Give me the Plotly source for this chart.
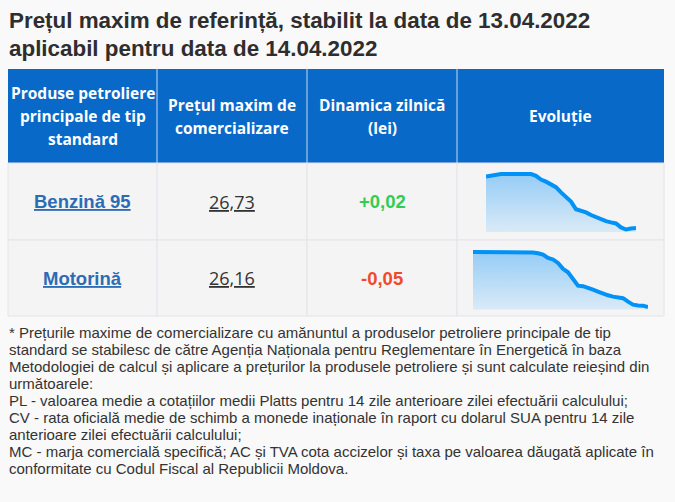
import plotly.graph_objects as go

W, H = 675, 502

title_lines = ["Prețul maxim de referință, stabilit la data de 13.04.2022",
               "aplicabil pentru data de 14.04.2022"]

headers = ["Produse petroliere<br>principale de tip<br>standard",
           "Prețul maxim de<br>comercializare",
           "Dinamica zilnică<br>(lei)",
           "Evoluție"]

products = ["Benzină 95", "Motorină"]
prices = [26.73, 26.16]
changes = [0.02, -0.05]

# daily max price over the last weeks
evol_benzina = [28.68, 28.72, 28.77, 28.78, 28.78, 28.78, 28.78, 28.78, 28.78, 28.78,
                28.71, 28.57, 28.49, 28.37, 28.28, 28.08, 27.88, 27.73, 27.44, 27.38,
                27.32, 27.22, 27.13, 27.04, 26.99, 26.94, 26.90, 26.75, 26.67, 26.71,
                26.73]
evol_motorina = [28.22, 28.22, 28.22, 28.22, 28.22, 28.22, 28.22, 28.22, 28.22, 28.22,
                 28.22, 28.22, 28.20, 28.17, 28.12, 28.00, 27.94, 27.81, 27.59, 27.46,
                 27.19, 26.96, 26.94, 26.89, 26.81, 26.74, 26.66, 26.60, 26.55, 26.52,
                 26.49, 26.36, 26.25, 26.22, 26.21, 26.16]

footnote = ["* Prețurile maxime de comercializare cu amănuntul a produselor petroliere principale de tip",
            "standard se stabilesc de către Agenția Naționala pentru Reglementare în Energetică în baza",
            "Metodologiei de calcul și aplicare a prețurilor la produsele petroliere și sunt calculate reieșind din",
            "următoarele:",
            "PL - valoarea medie a cotațiilor medii Platts pentru 14 zile anterioare zilei efectuării calculului;",
            "CV - rata oficială medie de schimb a monede inaționale în raport cu dolarul SUA pentru 14 zile",
            "anterioare zilei efectuării calculului;",
            "MC - marja comercială specifică; AC și TVA cota accizelor și taxa pe valoarea dăugată aplicate în",
            "conformitate cu Codul Fiscal al Republicii Moldova."]

# table geometry in pixels
col_x = [8, 157, 307, 457, 664]
row_y = [69, 163, 240, 316]
spark_box = [(486, 636, 171.5, 232), (473, 648, 249.5, 309.5)]

BLUE = '#0869c9'
CELL = '#f4f4f4'
BORDER = '#e4e4ea'
TEXT = '#333333'


def px(x):
    return x / W


def py(y):
    return 1 - y / H


def label(text, x, y, size, color, family='Liberation Sans', anchor='center'):
    return dict(text=text, x=px(x), y=py(y), xref='paper', yref='paper',
                showarrow=False, xanchor=anchor, yanchor='middle', align=anchor,
                font=dict(family=family, size=size, color=color))


fig = go.Figure()
shapes = []
annotations = []

# header band
shapes.append(dict(type='rect', xref='paper', yref='paper', layer='below',
                   x0=px(col_x[0]), x1=px(col_x[-1]), y0=py(row_y[1]), y1=py(row_y[0]),
                   fillcolor=BLUE, line=dict(width=0)))
for xc in col_x[1:-1]:
    shapes.append(dict(type='line', xref='paper', yref='paper', layer='below',
                       x0=px(xc), x1=px(xc), y0=py(row_y[1]), y1=py(row_y[0]),
                       line=dict(color='rgba(255,255,255,0.75)', width=1)))

# body cells
for r in range(2):
    for c in range(4):
        shapes.append(dict(type='rect', xref='paper', yref='paper', layer='below',
                           x0=px(col_x[c]), x1=px(col_x[c + 1]),
                           y0=py(row_y[r + 2]), y1=py(row_y[r + 1]),
                           fillcolor=CELL, line=dict(color=BORDER, width=1)))

col_c = [(col_x[c] + col_x[c + 1]) / 2 for c in range(4)]

# header text, one annotation per line so the line spacing matches
for c, h in enumerate(headers):
    lines = h.split('<br>')
    cy = (row_y[0] + row_y[1]) / 2
    for i, line in enumerate(lines):
        yy = cy + (i - (len(lines) - 1) / 2) * 23
        annotations.append(label('<b>' + line + '</b>', col_c[c], yy, 15.5, 'white',
                                 family='Open Sans'))

# body text
for r in range(2):
    cy = (row_y[r + 1] + row_y[r + 2]) / 2
    annotations.append(label('<b><u>' + products[r] + '</u></b>', col_c[0], cy, 18.5, '#2c6cb4'))
    annotations.append(label('<u>' + f'{prices[r]:.2f}'.replace('.', ',') + '</u>',
                             col_c[1], cy, 18, TEXT, family='Open Sans'))
    ch = changes[r]
    annotations.append(label('<b>' + f'{ch:+.2f}'.replace('.', ',') + '</b>', col_c[2], cy, 18.5,
                             '#33cc52' if ch > 0 else '#f04a2b'))

# sparklines
for k, vals in enumerate([evol_benzina, evol_motorina]):
    x0, x1, ytop, ybot = spark_box[k]
    span = max(vals) - min(vals)
    lo = min(vals) - span * 0.045
    hi = max(vals) + span * 0.045
    sfx = '' if k == 0 else str(k + 1)
    fig.add_trace(go.Scatter(
        x=list(range(len(vals))), y=vals, mode='lines', fill='tozeroy',
        line=dict(color='#0092f7', width=4),
        fillgradient=dict(type='vertical', start=lo, stop=hi,
                          colorscale=[[0, 'rgb(218,234,247)'], [1, 'rgb(146,203,246)']]),
        xaxis='x' + sfx, yaxis='y' + sfx, hoverinfo='skip', showlegend=False))
    fig.layout['xaxis' + sfx] = dict(domain=[px(x0), px(x1)], range=[0, len(vals) - 1],
                                     visible=False, fixedrange=True)
    fig.layout['yaxis' + sfx] = dict(domain=[py(ybot), py(ytop)], range=[lo, hi],
                                     visible=False, fixedrange=True)

# title
for i, line in enumerate(title_lines):
    annotations.append(label('<b>' + line + '</b>', 7, 21 + 27 * i, 22.4, '#2e2e2e', anchor='left'))

# footnote
for i, line in enumerate(footnote):
    annotations.append(label(line, 7, 332 + 17.1 * i, 15, TEXT, anchor='left'))

fig.update_layout(width=W, height=H, margin=dict(l=0, r=0, t=0, b=0),
                  paper_bgcolor='#f9f9f9', plot_bgcolor='rgba(0,0,0,0)',
                  shapes=shapes, annotations=annotations, hovermode=False)

fig.write_html('out.html', config={'displayModeBar': False},
               post_script="document.body.style.margin='0';")
